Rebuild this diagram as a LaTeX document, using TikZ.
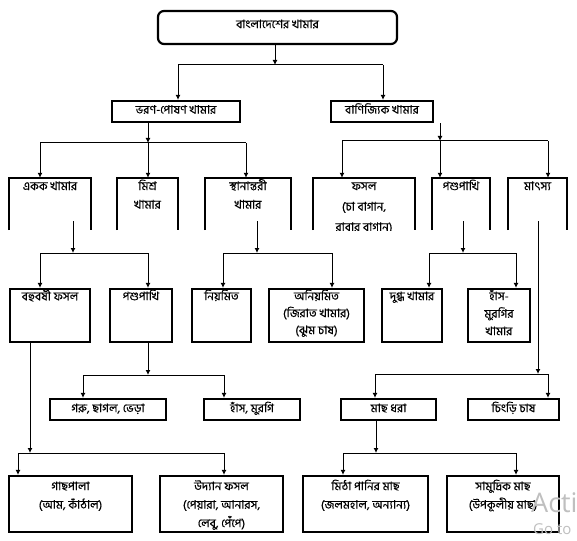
\documentclass[tikz,border=0pt]{standalone}
\usepackage{fontspec}
\setmainfont[Script=Bengali, FakeBold=0.35]{Hind Siliguri}
\newfontfamily\wmfont{Open Sans}
\usetikzlibrary{arrows.meta,fit}
\newcommand\st{\rule{0pt}{11pt}}
\newcommand\obox[1]{\draw[boxline] (#1.south west) -- (#1.north west) -- (#1.north east) -- (#1.south east);}
\tikzset{
  boxline/.style={line width=2.2pt, line join=miter},
  bx/.style={draw, line width=2.2pt, inner sep=0pt},
  fr/.style={inner sep=0pt},
  tx/.style={font=\fontsize{11.8}{18.5}\selectfont, align=center, inner sep=0pt, anchor=north},
  ln/.style={line width=1pt},
  arr/.style={line width=1pt, -{Latex[length=5pt,width=5pt]}},
  wm/.style={text=black!25, inner sep=0pt, anchor=base west},
}
\begin{document}
\begin{tikzpicture}[x=1pt,y=-1pt]
\useasboundingbox (0,0) rectangle (577,540);
\clip (0,0) rectangle (577,540);
\fill[white] (0,0) rectangle (577,540);

% ---- top ----
\node[bx, rounded corners=6pt, fit={(158,11) (397,44)}] (T) {};
\node[tx] (tT) at ([yshift=-7pt]T.north) {\st বাংলাদেশের খামার};

% ---- row 2 ----
\node[bx, fit={(112,101) (240,122)}] (BP) {};
\node[tx] (tBP) at ([yshift=-2.5pt]BP.north) {\st ভরণ-পোষণ খামার};
\node[bx, fit={(331,101) (433,122)}] (BJ) {};
\node[tx] (tBJ) at ([yshift=-2.5pt]BJ.north) {\st বাণিজ্যিক খামার};

% ---- row 3 (open at the bottom) ----
\node[fr, fit={(9,178) (91,230)}] (E) {};
\node[fr, fit={(117,178) (178,230)}] (M) {};
\node[fr, fit={(205,178) (291,230)}] (S) {};
\node[fr, fit={(313,178) (415,230)}] (F) {};
\node[fr, fit={(432,178) (490,230)}] (P2) {};
\node[fr, fit={(508,178) (567,230)}] (MT) {};
\obox{E}\obox{M}\obox{S}\obox{F}\obox{P2}\obox{MT}
\node[tx] (tE) at ([yshift=-1pt]E.north) {\st একক খামার};
\node[tx] (tM) at ([yshift=-1pt]M.north) {\st মিশ্র\\খামার};
\node[tx] (tS) at ([yshift=-1pt]S.north) {\st স্থানান্তরী\\খামার};
\begin{scope}
\clip (F.north west) rectangle (F.south east);
\node[tx, font=\fontsize{11.8}{20.5}\selectfont] (tF) at ([yshift=-1pt]F.north) {\st ফসল\\(চা বাগান,\\রাবার বাগান)};
\end{scope}
\node[tx] (tP2) at ([yshift=-1pt]P2.north) {\st পশুপাখি};
\node[tx] (tMT) at ([yshift=-1pt]MT.north) {\st মাৎস্য};

% ---- row 4 ----
\node[bx, fit={(10,289) (90,342)}] (BF) {};
\node[bx, fit={(110,289) (172,342)}] (PP) {};
\node[bx, fit={(192,289) (251,342)}] (NY) {};
\node[bx, fit={(269,289) (364,342)}] (AN) {};
\node[bx, fit={(382,289) (442,342)}] (DK) {};
\node[bx, fit={(468,289) (530,342)}] (HM) {};
\node[tx] (tBF) at ([yshift=-1pt]BF.north) {\st বহুবর্ষী ফসল};
\node[tx] (tPP) at ([yshift=-1pt]PP.north) {\st পশুপাখি};
\node[tx] (tNY) at ([yshift=-1pt]NY.north) {\st নিয়মিত};
\node[tx, font=\fontsize{11.8}{17}\selectfont] (tAN) at ([yshift=-1pt]AN.north) {\st অনিয়মিত\\(জিরাত খামার)\\(ঝুম চাষ)};
\node[tx] (tDK) at ([yshift=-1pt]DK.north) {\st দুগ্ধ খামার};
\node[tx, font=\fontsize{11.8}{17.5}\selectfont] (tHM) at ([yshift=-1pt]HM.north) {\st হাঁস-\\মুরগির\\খামার};

% ---- row 5 ----
\node[bx, fit={(50,399) (166,420)}] (GC) {};
\node[bx, fit={(204,399) (300,420)}] (HS) {};
\node[bx, fit={(341,399) (436,420)}] (MD) {};
\node[bx, fit={(468,399) (559,420)}] (CC) {};
\node[tx] (tGC) at ([yshift=-3pt]GC.north) {\st গরু, ছাগল, ভেড়া};
\node[tx] (tHS) at ([yshift=-3pt]HS.north) {\st হাঁস, মুরগি};
\node[tx] (tMD) at ([yshift=-3pt]MD.north) {\st মাছ ধরা};
\node[tx] (tCC) at ([yshift=-3pt]CC.north) {\st চিংড়ি চাষ};

% ---- row 6 ----
\node[bx, fit={(9,476) (132,532)}] (GP) {};
\node[bx, fit={(160,476) (283,532)}] (UF) {};
\node[bx, fit={(303,476) (428,532)}] (MP) {};
\node[bx, fit={(447,476) (559,532)}] (SM) {};
\node[tx] (tGP) at ([yshift=-4pt]GP.north) {\st গাছপালা\\(আম, কাঁঠাল)};
\node[tx] (tUF) at ([yshift=-4pt]UF.north) {\st উদ্যান ফসল\\(পেয়ারা, আনারস,\\লেবু, পেঁপে)};
\node[tx] (tMP) at ([yshift=-4pt]MP.north) {\st মিঠা পানির মাছ\\(জলমহাল, অন্যান্য)};
\node[tx] (tSM) at ([yshift=-4pt]SM.north) {\st সামুদ্রিক মাছ\\(উপকূলীয় মাছ)};

% ---- connectors: top ----
\coordinate (j0) at (275,65);
\coordinate (a0) at (178,65);
\coordinate (b0) at (383,65);
\draw[arr] (j0 |- T.south) -- (j0);
\draw[ln] (a0) -- (b0);
\draw[arr] (a0) -- (a0 |- BP.north);
\draw[arr] (b0) -- (b0 |- BJ.north);

% ---- BP ----
\coordinate (j1) at (148,143);
\coordinate (a1) at (40,143);
\coordinate (c1) at (246,143);
\draw[arr] (j1 |- BP.south) -- (j1);
\draw[ln] (a1) -- (c1);
\draw[arr] (a1) -- (a1 |- E.north);
\draw[arr] (j1) -- (j1 |- M.north);
\draw[arr] (c1) -- (c1 |- S.north);

% ---- BJ ----
\coordinate (j2) at (440,141);
\coordinate (a2) at (342,141);
\coordinate (c2) at (548,141);
\draw[arr] (j2 |- BJ.south) -- (j2);
\draw[ln] (a2) -- (c2);
\draw[arr] (a2) -- (a2 |- F.north);
\draw[arr] (j2) -- (j2 |- P2.north);
\draw[arr] (c2) -- (c2 |- MT.north);

% ---- E ----
\coordinate (sE) at (73,221);
\coordinate (j3) at (73,253);
\coordinate (a3) at (40,253);
\coordinate (c3) at (148,253);
\draw[arr] (sE) -- (j3);
\draw[ln] (a3) -- (c3);
\draw[arr] (a3) -- (a3 |- BF.north);
\draw[arr] (c3) -- (c3 |- PP.north);

% ---- S ----
\coordinate (sS) at (257,221);
\coordinate (j4) at (257,253);
\coordinate (a4) at (223,253);
\coordinate (c4) at (332,253);
\draw[arr] (sS) -- (j4);
\draw[ln] (a4) -- (c4);
\draw[arr] (a4) -- (a4 |- NY.north);
\draw[arr] (c4) -- (c4 |- AN.north);

% ---- P2 ----
\coordinate (sP) at (463,221);
\coordinate (j5) at (463,253);
\coordinate (a5) at (429,253);
\coordinate (c5) at (516,253);
\draw[arr] (sP) -- (j5);
\draw[ln] (a5) -- (c5);
\draw[arr] (a5) -- (a5 |- DK.north);
\draw[arr] (c5) -- (c5 |- HM.north);

% ---- MT ----
\coordinate (sM) at (538,221);
\coordinate (j6) at (538,374);
\coordinate (a6) at (375,374);
\coordinate (c6) at (548,374);
\draw[arr] (sM) -- (j6);
\draw[ln] (a6) -- (c6);
\draw[arr] (a6) -- (a6 |- MD.north);
\draw[arr] (c6) -- (c6 |- CC.north);

% ---- PP ----
\coordinate (j7) at (148,375);
\coordinate (a7) at (83,375);
\coordinate (c7) at (224,375);
\draw[arr] (j7 |- PP.south) -- (j7);
\draw[ln] (a7) -- (c7);
\draw[arr] (a7) -- (a7 |- GC.north);
\draw[arr] (c7) -- (c7 |- HS.north);

% ---- BF ----
\coordinate (j8) at (30,453);
\coordinate (a8) at (18,453);
\coordinate (c8) at (224,453);
\draw[arr] (j8 |- BF.south) -- (j8);
\draw[ln] (a8) -- (c8);
\draw[arr] (a8) -- (a8 |- GP.north);
\draw[arr] (c8) -- (c8 |- UF.north);

% ---- MD ----
\coordinate (j9) at (376,453);
\coordinate (a9) at (343,453);
\coordinate (c9) at (516,453);
\draw[arr] (j9 |- MD.south) -- (j9);
\draw[ln] (a9) -- (c9);
\draw[arr] (a9) -- (a9 |- MP.north);
\draw[arr] (c9) -- (c9 |- SM.north);

% ---- watermark (as far as it is visible) ----
\node[wm, font=\wmfont\fontsize{27}{29}\selectfont] (w1) at (531,512) {Acti};
\node[wm, font=\wmfont\fontsize{15}{17}\selectfont] (w2) at (533,534) {Go to};
\end{tikzpicture}
\end{document}
